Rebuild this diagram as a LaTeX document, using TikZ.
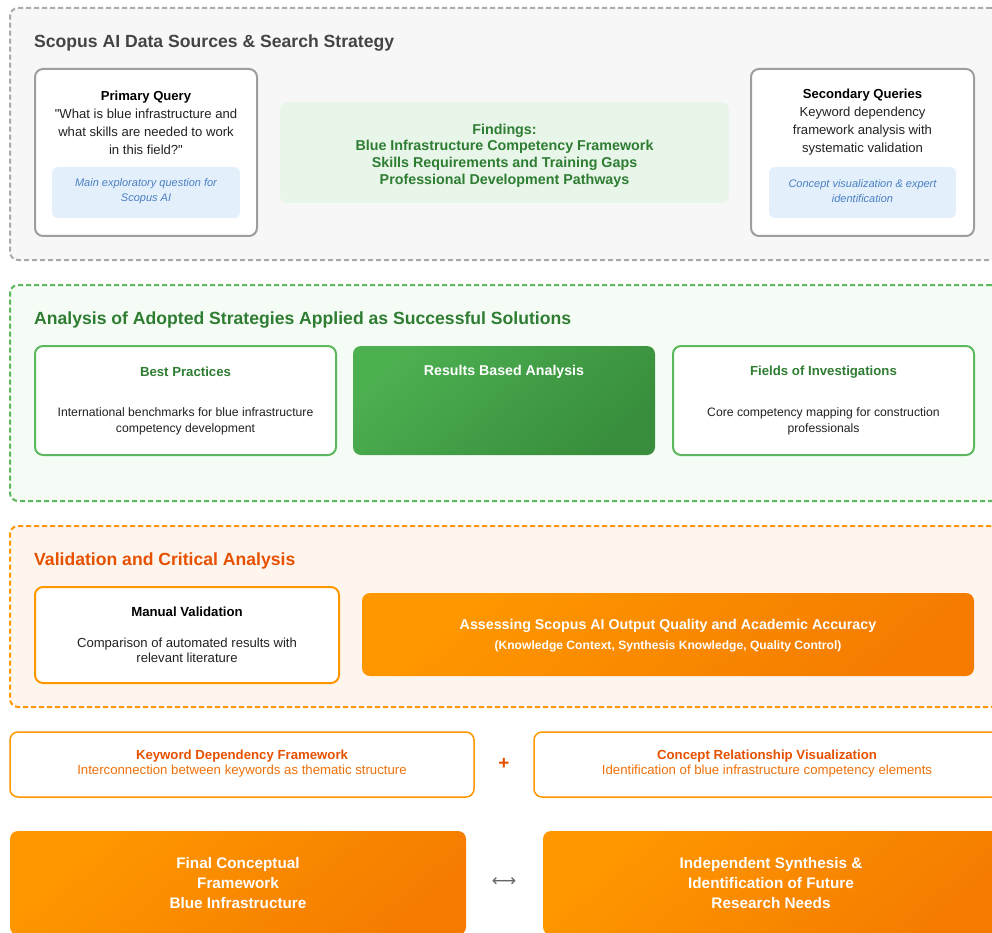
\documentclass[tikz,border=0pt]{standalone}
\usepackage{fontspec}
\setmainfont{Liberation Sans}
\newfontfamily\symfont{DejaVu Sans}
% same face without the TeX character mapping, so " stays a straight quote
\newfontfamily\plainquote{Liberation Sans}

\definecolor{pagebg}{HTML}{FFFFFF}
\definecolor{graybg}{HTML}{F7F7F7}
\definecolor{graydash}{HTML}{AAAAAA}
\definecolor{grayborder}{HTML}{9E9E9E}
\definecolor{graytitle}{HTML}{444444}
\definecolor{notebg}{HTML}{E3F0FC}
\definecolor{notetext}{HTML}{4A7FC1}
\definecolor{findbg}{HTML}{E8F5E9}
\definecolor{darkgreen}{HTML}{2E7D32}
\definecolor{greenbg}{HTML}{F5FCF5}
\definecolor{greenline}{HTML}{5CB85C}
\definecolor{greenA}{HTML}{4CAF50}
\definecolor{greenB}{HTML}{388E3C}
\definecolor{orangebg}{HTML}{FFF5EF}
\definecolor{orangeline}{HTML}{FF9800}
\definecolor{orangeA}{HTML}{FF9800}
\definecolor{orangeB}{HTML}{F57C00}
\definecolor{deeporange}{HTML}{E65100}
\definecolor{softorange}{HTML}{F0700A}
\definecolor{bodytext}{HTML}{222222}
\definecolor{arrowgray}{HTML}{666666}

\newcommand\fsz[2]{\fontsize{#1}{#2}\selectfont}
\newcommand\dq{{\plainquote"}}

\tikzset{
  panel/.style={anchor=north west, inner sep=0pt, outer sep=0pt, rounded corners=8pt},
  section/.style={panel, line width=2pt, dash pattern=on 5pt off 3pt},
  whitebox/.style={panel, fill=white, line width=2pt},
  notebox/.style={panel, fill=notebg, rounded corners=6pt},
  greengrad/.style={panel, bottom color=greenB, top color=greenA, shading angle=40},
  orangegrad/.style={panel, bottom color=orangeB, top color=orangeA, shading angle=40},
  txt/.style={inner sep=0pt, align=center},
  sectitle/.style={inner sep=0pt, anchor=west, font=\bfseries\fsz{17.6}{20}},
}

\begin{document}
\begin{tikzpicture}[x=1pt, y=-1pt]
\clip (0,0) rectangle (992,933);
\fill[pagebg] (0,0) rectangle (992,933);

% ---- Data sources and search strategy
\node[section, draw=graydash, fill=graybg, minimum width=989, minimum height=252] (sec1) at (10,8) {};
\node[sectitle, text=graytitle] (sec1title) at (34,42.5) {Scopus AI Data Sources \& Search Strategy};

\node[whitebox, draw=grayborder, minimum width=222, minimum height=167] (pq) at (35,69) {};
\node[txt, font=\fsz{13.1}{18}, text=bodytext] (pqtext) at (146,122.5)
  {\textcolor{black}{\textbf{Primary Query}}\\\dq What is blue infrastructure and\\what skills are needed to work\\in this field?\dq};
\node[notebox, minimum width=188, minimum height=51] (pqnote) at (52,167) {};
\node[txt, font=\itshape\fsz{11}{15}, text=notetext] (pqnotetext) at (146,191.5)
  {Main exploratory question for\\Scopus AI};

\node[panel, fill=findbg, minimum width=449, minimum height=101] (find) at (280,102) {};
\node[txt, font=\bfseries\fsz{14.3}{16.7}, text=darkgreen] (findtext) at (504.5,155.5)
  {Findings:\\Blue Infrastructure Competency Framework\\Skills Requirements and Training Gaps\\Professional Development Pathways};

\node[whitebox, draw=grayborder, minimum width=223, minimum height=167] (sq) at (751,69) {};
\node[txt, font=\fsz{13.1}{18}, text=bodytext] (sqtext) at (862.5,122.5)
  {\textcolor{black}{\textbf{Secondary Queries}}\\Keyword dependency\\framework analysis with\\systematic validation};
\node[notebox, minimum width=187, minimum height=51] (sqnote) at (769,167) {};
\node[txt, font=\itshape\fsz{11}{15}, text=notetext] (sqnotetext) at (862.5,191.5)
  {Concept visualization \& expert\\identification};

% ---- Adopted strategies
\node[section, draw=greenline, fill=greenbg, minimum width=989, minimum height=216] (sec2) at (10,285) {};
\node[sectitle, text=darkgreen] (sec2title) at (34,319.5) {Analysis of Adopted Strategies Applied as Successful Solutions};

\node[whitebox, draw=greenline, minimum width=301, minimum height=109] (bp) at (35,346) {};
\node[txt, font=\bfseries\fsz{13.2}{15}, text=darkgreen] (bptitle) at (185.5,372) {Best Practices};
\node[txt, font=\fsz{12.2}{16}, text=bodytext] (bptext) at (185.5,421.5)
  {International benchmarks for blue infrastructure\\competency development};

\node[greengrad, minimum width=302, minimum height=109] (rb) at (353,346) {};
\node[txt, font=\bfseries\fsz{14.2}{15}, text=white] (rbtitle) at (504,371.5) {Results Based Analysis};

\node[whitebox, draw=greenline, minimum width=301, minimum height=109] (fi) at (673,346) {};
\node[txt, font=\bfseries\fsz{13.2}{15}, text=darkgreen] (fititle) at (823.5,372) {Fields of Investigations};
\node[txt, font=\fsz{12.2}{16}, text=bodytext] (fitext) at (823.5,421.5)
  {Core competency mapping for construction\\professionals};

% ---- Validation
\node[section, draw=orangeline, fill=orangebg, minimum width=989, minimum height=181] (sec3) at (10,526) {};
\node[sectitle, text=deeporange] (sec3title) at (34,560.5) {Validation and Critical Analysis};

\node[whitebox, draw=orangeline, minimum width=304, minimum height=96] (mv) at (35,587) {};
\node[txt, font=\bfseries\fsz{13.2}{15}, text=black] (mvtitle) at (187,611.5) {Manual Validation};
\node[txt, font=\fsz{13.1}{15.5}, text=bodytext] (mvtext) at (187,650.5)
  {Comparison of automated results with\\relevant literature};

\node[orangegrad, minimum width=612, minimum height=83] (as) at (362,593) {};
\node[txt, font=\bfseries\fsz{14.25}{16}, text=white] (astitle) at (668,626)
  {Assessing Scopus AI Output Quality and Academic Accuracy};
\node[txt, font=\bfseries\fsz{12.1}{13}, text=white] (assub) at (668,646.5)
  {(Knowledge Context, Synthesis Knowledge, Quality Control)};

% ---- Combined tools
\node[whitebox, draw=orangeline, line width=1.5pt, minimum width=464, minimum height=65] (kd) at (10,732) {};
\node[txt, font=\bfseries\fsz{13.2}{15}, text=deeporange] (kdtitle) at (242,756) {Keyword Dependency Framework};
\node[txt, font=\fsz{13.2}{15}, text=softorange] (kdtext) at (242,771.5)
  {Interconnection between keywords as thematic structure};

\node[txt, font=\bfseries\fsz{19}{20}, text=deeporange] (plus) at (504,764) {+};

\node[whitebox, draw=orangeline, line width=1.5pt, minimum width=466, minimum height=65] (cr) at (534,732) {};
\node[txt, font=\bfseries\fsz{13.2}{15}, text=deeporange] (crtitle) at (767,756) {Concept Relationship Visualization};
\node[txt, font=\fsz{13.2}{15}, text=softorange] (crtext) at (767,771.5)
  {Identification of blue infrastructure competency elements};

% ---- Outcomes
\node[orangegrad, minimum width=456, minimum height=104] (fc) at (10,831) {};
\node[txt, font=\bfseries\fsz{15.3}{20}, text=white] (fctext) at (238,883.5)
  {Final Conceptual\\Framework\\Blue Infrastructure};

\node[txt, font=\symfont\fsz{17}{20}, text=arrowgray] (link) at (504,882) {⟷};

\node[orangegrad, minimum width=456, minimum height=104] (is) at (543,831) {};
\node[txt, font=\bfseries\fsz{15.3}{20}, text=white] (istext) at (771,883.5)
  {Independent Synthesis \&\\Identification of Future\\Research Needs};
\end{tikzpicture}
\end{document}
